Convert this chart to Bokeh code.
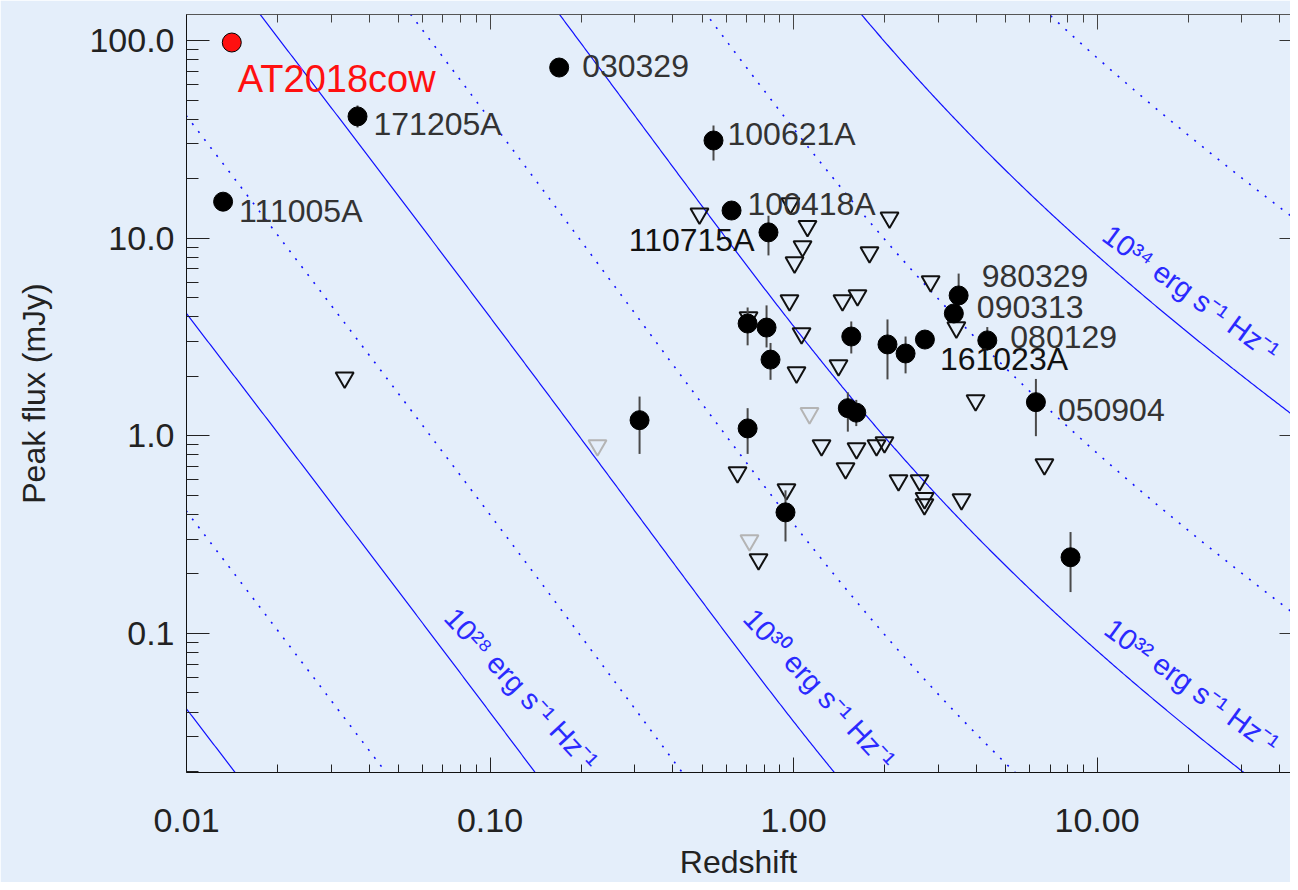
import numpy as np
from bokeh.plotting import figure
from bokeh.models import Range1d, FixedTicker, LogAxis, CustomJSTickFormatter, Label
from bokeh.embed import file_html
from bokeh.resources import INLINE

# ---------------- data ----------------
# radio-detected events (filled circles); NaN = no error bar drawn
det_name = ["171205A", "111005A", "030329", "100621A", "100418A", "110715A",
            "980329", "090313", "080129", "161023A", "050904", "",
            "", "", "", "", "", "", "", "", "", "", ""]
det_z = [0.0366, 0.0132, 0.169, 0.545, 0.625, 0.827,
         3.50, 3.375, 4.35, 2.71, 6.29, 8.18,
         0.311, 0.706, 0.706, 0.815, 0.840, 1.55, 2.04, 2.34, 1.51, 1.61, 0.941]
det_f = [41.3, 15.3, 73.0, 31.2, 13.8, 10.7,
         5.13, 4.16, 3.04, 3.07, 1.48, 0.243,
         1.20, 1.09, 3.70, 3.53, 2.43, 3.18, 2.90, 2.61, 1.38, 1.31, 0.41]
det_lo = [36.3, np.nan, np.nan, 24.7, np.nan, 8.18,
          3.99, np.nan, 2.70, np.nan, 0.996, 0.162,
          0.81, 0.81, 2.87, 2.80, 1.92, 2.61, 1.93, 2.07, 1.05, 1.12, 0.292]
det_hi = [46.9, np.nan, np.nan, 37.2, np.nan, 13.0,
          6.62, np.nan, 3.55, np.nan, 1.94, 0.326,
          1.58, 1.38, 4.46, 4.57, 2.95, 3.79, 3.88, 3.18, 1.66, 1.52, 0.53]

cow_name = ["AT2018cow"]
cow_z = [0.0141]
cow_f = [97.7]

# upper limits (open down-triangles)
ul_z = [0.0332, 0.490, 0.977, 1.112, 1.071, 1.008, 1.780, 2.072, 0.970, 1.450,
        1.625, 0.711, 1.063, 1.023, 1.407, 2.83, 3.44, 3.98, 6.71, 1.237,
        1.613, 1.877, 1.994, 1.484, 0.654, 0.948, 2.218, 2.602, 2.703, 2.70,
        3.577, 0.767]
ul_f = [1.97, 13.3, 15.0, 11.5, 9.08, 7.53, 8.47, 12.7, 4.84, 4.84,
        5.13, 3.97, 3.30, 2.09, 2.27, 6.04, 3.53, 1.51, 0.717, 0.894,
        0.864, 0.894, 0.926, 0.684, 0.653, 0.536, 0.595, 0.595, 0.483, 0.450,
        0.477, 0.237]
# grey upper limits
gul_z = [0.226, 1.129, 0.716]
gul_f = [0.894, 1.30, 0.296]

# iso-luminosity curves (erg s^-1 Hz^-1)
lum_exp = [26, 27, 28, 29, 30, 31, 32, 33, 34, 35]
x_ticks = [0.01, 0.1, 1, 10]
y_ticks = [0.1, 1, 10, 100]

# ---------------- styling / layout ----------------
BG = "#e4eefa"
FONT = "Liberation Sans"
W, H = 1290, 882

p = figure(width=W, height=H, x_axis_type="log", y_axis_type="log",
           x_range=Range1d(0.01, 43.4), y_range=Range1d(0.0198, 135.4),
           output_backend="svg", toolbar_location=None,
           background_fill_color=BG, border_fill_color=BG,
           min_border_left=186, min_border_right=0, min_border_top=14,
           min_border_bottom=110)
p.outline_line_color = None
p.xgrid.visible = False
p.ygrid.visible = False

def minor_for(lo, hi):
    out = []
    for e in range(lo, hi + 1):
        for k in range(2, 10):
            out.append(k * 10.0 ** e)
    return out

xt = FixedTicker(ticks=x_ticks, minor_ticks=minor_for(-2, 1))
yt = FixedTicker(ticks=y_ticks, minor_ticks=minor_for(-2, 2))

xa = p.xaxis[0]
xa.ticker = xt
xa.formatter = CustomJSTickFormatter(code="return tick.toFixed(2);")
ya = p.yaxis[0]
ya.ticker = yt
ya.formatter = CustomJSTickFormatter(code="return tick.toFixed(1);")

for ax in (xa, ya):
    ax.major_tick_out = 0
    ax.minor_tick_out = 0
    ax.axis_line_color = "#111111"
    ax.major_tick_line_color = "#222222"
    ax.minor_tick_line_color = "#222222"
    ax.major_label_text_font = FONT
    ax.major_label_text_font_size = "34px"
    ax.major_label_text_color = "#222222"
    ax.axis_label_text_font = FONT
    ax.axis_label_text_font_size = "32px"
    ax.axis_label_text_font_style = "normal"
    ax.axis_label_text_color = "#222222"

xa.major_tick_in = 15
xa.minor_tick_in = 8
xa.major_label_standoff = 36
xa.axis_label = "Redshift"
xa.axis_label_standoff = 9

ya.major_tick_in = 23
ya.minor_tick_in = 12
ya.major_label_standoff = 12
ya.axis_label = "Peak flux (mJy)"
ya.axis_label_standoff = 34

top = LogAxis(ticker=xt, formatter=CustomJSTickFormatter(code="return '';"),
              major_tick_in=15, major_tick_out=0, minor_tick_in=8, minor_tick_out=0,
              major_label_standoff=0, major_label_text_font_size="1px",
              axis_line_color="#555555", major_tick_line_color="#444444",
              minor_tick_line_color="#444444")
p.add_layout(top, "above")
right = LogAxis(ticker=yt, formatter=CustomJSTickFormatter(code="return '';"),
                major_tick_in=11, major_tick_out=0, minor_tick_in=0, minor_tick_out=0,
                major_label_standoff=0, major_label_text_font_size="1px",
                axis_line_color=None, major_tick_line_color="#333333")
p.add_layout(right, "right")

# ---------------- iso-luminosity curves ----------------
H0, Om, OL = 67.0, 0.32, 0.68
c_kms = 299792.458
Mpc_cm = 3.0857e24
zg = np.logspace(np.log10(0.006), np.log10(60.0), 800)
zz = np.linspace(0.0, 60.0, 60001)
inv_E = 1.0 / np.sqrt(Om * (1 + zz) ** 3 + OL)
dc = np.concatenate([[0.0], np.cumsum(0.5 * (inv_E[1:] + inv_E[:-1]) * np.diff(zz))])
DL = (1 + zg) * np.interp(zg, zz, dc) * c_kms / H0 * Mpc_cm

for e in lum_exp:
    flux_mjy = 10.0 ** e * (1 + zg) / (4 * np.pi * DL ** 2) * 1e26
    if e % 2 == 0:
        p.line(zg, flux_mjy, line_color="#1010ff", line_width=1.2)
    else:
        p.line(zg, flux_mjy, line_color="#1010ff", line_width=1.6, line_dash="2 8")

lum_labels = [("10²⁸ erg s⁻¹ Hz⁻¹", 0.0806, 0.145, -47),
              ("10³⁰ erg s⁻¹ Hz⁻¹", 0.778, 0.144, -47),
              ("10³² erg s⁻¹ Hz⁻¹", 11.68, 0.128, -36),
              ("10³⁴ erg s⁻¹ Hz⁻¹", 11.51, 12.59, -36)]
for txt, lx, ly, ang in lum_labels:
    p.add_layout(Label(x=lx, y=ly, text=txt, angle=np.deg2rad(ang),
                       text_align="left", text_baseline="top",
                       text_font=FONT, text_font_size="29px", text_color="#2a2aff"))

# ---------------- markers ----------------
p.scatter(ul_z, ul_f, marker="inverted_triangle", size=18, fill_color=None,
          line_color="#111111", line_width=2)
p.scatter(gul_z, gul_f, marker="inverted_triangle", size=18, fill_color=None,
          line_color="#b4b4b4", line_width=2)

ez, elo, ehi = [], [], []
for zv, lo, hi in zip(det_z, det_lo, det_hi):
    if not (np.isnan(lo) or np.isnan(hi)):
        ez.append(zv); elo.append(lo); ehi.append(hi)
p.segment(ez, elo, ez, ehi, line_color="#4a4a4a", line_width=2)

p.scatter(det_z, det_f, marker="circle", size=19, fill_color="black",
          line_color="black", line_width=1)
p.scatter(cow_z, cow_f, marker="circle", size=19, fill_color="#ff1010",
          line_color="black", line_width=1)

# ---------------- point labels ----------------
label_off = {  # px right, px down, align
    "171205A": (16, 8, "left"),
    "111005A": (16, 9, "left"),
    "030329": (23, -2, "left"),
    "100621A": (14, -6, "left"),
    "100418A": (16, -7, "left"),
    "110715A": (-14, 8, "right"),
    "980329": (23, -19, "left"),
    "090313": (23, -6, "left"),
    "080129": (23, -3, "left"),
    "161023A": (15, 19, "left"),
    "050904": (22, 8, "left"),
}
for name, zv, fv in zip(det_name, det_z, det_f):
    if name:
        dx, dy, al = label_off[name]
        col = "#111111" if name in ("161023A", "110715A") else "#333333"
        p.add_layout(Label(x=zv, y=fv, text=name, x_offset=dx, y_offset=-dy,
                           text_align=al, text_baseline="middle",
                           text_font=FONT, text_font_size="32px", text_color=col))
p.add_layout(Label(x=cow_z[0], y=cow_f[0], text=cow_name[0], x_offset=6, y_offset=-36,
                   text_align="left", text_baseline="middle",
                   text_font=FONT, text_font_size="38px", text_color="#ff1010"))

html = file_html(p, INLINE, title="Peak flux vs redshift")
html = html.replace("<body>", '<body style="background-color:%s;">' % BG, 1)
open("out.html", "w").write(html)
